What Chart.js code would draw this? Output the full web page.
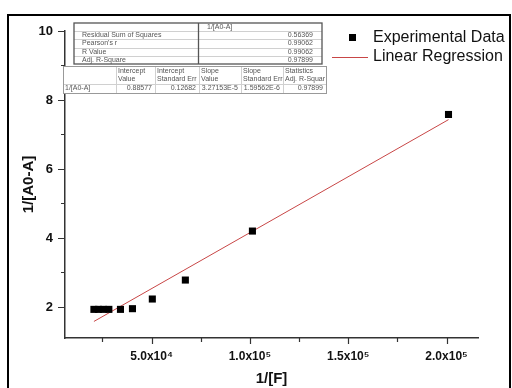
<!DOCTYPE html>
<html>
<head>
    <script src="https://cdn.jsdelivr.net/npm/chart.js@4.4.0/dist/chart.umd.min.js"></script>
    <style>
        body { margin: 0; background: #fff; }
    </style>
</head>
<body>
    <canvas id="myChart" width="512" height="388"></canvas>

    <script type="text/javascript">
        // data
        const fluorInv = [20700, 23000, 25500, 28300, 34200, 40300, 50400, 67200, 101300, 201000];
        const absInv = [1.93, 1.93, 1.93, 1.93, 1.93, 1.95, 2.23, 2.78, 4.20, 7.58];
        const fitX = [20700, 201000];
        const fitY = [1.58, 7.43];

        const xMajor = [50000, 100000, 150000, 200000];
        const xMajorLabels = ['5.0x10\u2074', '1.0x10\u2075', '1.5x10\u2075', '2.0x10\u2075'];
        const xMinor = [25000, 75000, 125000, 175000];
        const yMajor = [2, 4, 6, 8, 10];
        const yMinor = [3, 5, 7, 9];

        // fit report tables
        const t1Header = '1/[A0-A]';
        const t1Rows = ['Residual Sum of Squares', "Pearson's r", 'R Value', 'Adj. R-Square'];
        const t1Vals = ['0.56369', '0.99062', '0.99062', '0.97899'];
        const t2Head1 = ['Intercept', 'Intercept', 'Slope', 'Slope', 'Statistics'];
        const t2Head2 = ['Value', 'Standard Err', 'Value', 'Standard Err', 'Adj. R-Squar'];
        const t2RowName = '1/[A0-A]';
        const t2Row = ['0.88577', '0.12682', '3.27153E-5', '1.59562E-6', '0.97899'];

        const FONT = '"Liberation Sans", Arial, sans-serif';

        const points = fluorInv.map((x, i) => ({ x: x, y: absInv[i] }));
        const fitLine = fitX.map((x, i) => ({ x: x, y: fitY[i] }));

        const extras = {
            id: 'extras',
            afterDraw(chart) {
                const ctx = chart.ctx;
                const xs = chart.scales.x;
                const ys = chart.scales.y;
                ctx.save();

                // outer frame
                ctx.strokeStyle = '#000';
                ctx.lineWidth = 2;
                ctx.strokeRect(8, 15, 502, 400);

                // tick marks (outward)
                ctx.strokeStyle = '#333';
                ctx.lineWidth = 1.2;
                ctx.beginPath();
                yMajor.concat(yMinor).forEach(v => {
                    const py = Math.round(ys.getPixelForValue(v)) + 0.5;
                    const len = yMajor.includes(v) ? 7 : 4;
                    ctx.moveTo(xs.left, py);
                    ctx.lineTo(xs.left - len, py);
                });
                xMajor.concat(xMinor).forEach(v => {
                    const px = Math.round(xs.getPixelForValue(v)) + 0.5;
                    const len = xMajor.includes(v) ? 6 : 4;
                    ctx.moveTo(px, ys.bottom);
                    ctx.lineTo(px, ys.bottom + len);
                });
                ctx.stroke();

                // table 1
                ctx.font = '7px ' + FONT;
                ctx.textBaseline = 'middle';
                const t1 = { l: 74, r: 322, t: 23, b: 64, mid: 198 };
                const rh = (t1.b - t1.t) / 5;
                ctx.fillStyle = '#fff';
                ctx.fillRect(t1.l, t1.t, t1.r - t1.l, t1.b - t1.t);
                ctx.strokeStyle = '#d0d0d0';
                ctx.lineWidth = 1;
                ctx.beginPath();
                for (let i = 1; i < 5; i++) {
                    const yy = Math.round(t1.t + rh * i) + 0.5;
                    ctx.moveTo(t1.l, yy);
                    ctx.lineTo(t1.r, yy);
                }
                ctx.stroke();
                ctx.strokeStyle = '#555';
                ctx.lineWidth = 1.3;
                ctx.strokeRect(t1.l, t1.t, t1.r - t1.l, t1.b - t1.t);
                ctx.beginPath();
                ctx.moveTo(t1.mid + 0.5, t1.t);
                ctx.lineTo(t1.mid + 0.5, t1.b);
                ctx.stroke();
                ctx.fillStyle = '#555';
                ctx.textAlign = 'left';
                ctx.fillText(t1Header, 207, t1.t + rh * 0.5);
                t1Rows.forEach((s, i) => {
                    ctx.textAlign = 'left';
                    ctx.fillText(s, 82, t1.t + rh * (i + 1.5));
                    ctx.textAlign = 'right';
                    ctx.fillText(t1Vals[i], 313, t1.t + rh * (i + 1.5));
                });

                // table 2
                const cols = [63, 116, 155, 199, 241, 283, 326];
                const t2 = { t: 66, b: 93, line: 84 };
                ctx.fillStyle = '#fff';
                ctx.fillRect(cols[0], t2.t, cols[6] - cols[0], t2.b - t2.t);
                ctx.strokeStyle = '#d0d0d0';
                ctx.lineWidth = 1;
                ctx.beginPath();
                for (let i = 1; i < cols.length - 1; i++) {
                    ctx.moveTo(cols[i] + 0.5, t2.t);
                    ctx.lineTo(cols[i] + 0.5, t2.b);
                }
                ctx.moveTo(cols[0], t2.line + 0.5);
                ctx.lineTo(cols[6], t2.line + 0.5);
                ctx.stroke();
                ctx.strokeStyle = '#999';
                ctx.strokeRect(cols[0] + 0.5, t2.t + 0.5, cols[6] - cols[0], t2.b - t2.t);
                ctx.fillStyle = '#555';
                ctx.textAlign = 'left';
                ctx.fillText(t2RowName, 65, 88.5);
                t2Head1.forEach((s, i) => {
                    ctx.textAlign = 'left';
                    ctx.fillText(s, cols[i + 1] + 2, 71);
                    ctx.fillText(t2Head2[i], cols[i + 1] + 2, 79);
                    ctx.textAlign = 'right';
                    ctx.fillText(t2Row[i], cols[i + 2] - 3, 88.5);
                });

                // legend
                const ds0 = chart.data.datasets[0];
                const ds1 = chart.data.datasets[1];
                ctx.fillStyle = ds0.backgroundColor;
                ctx.fillRect(349, 34, 7, 7);
                ctx.strokeStyle = ds1.borderColor;
                ctx.lineWidth = 1;
                ctx.beginPath();
                ctx.moveTo(332, 57.5);
                ctx.lineTo(368, 57.5);
                ctx.stroke();
                ctx.fillStyle = '#111';
                ctx.font = '16px ' + FONT;
                ctx.textAlign = 'left';
                ctx.fillText(ds0.label, 373, 37.5);
                ctx.fillText(ds1.label, 373, 57);

                ctx.restore();
            }
        };

        const config = {
            type: 'scatter',
            data: {
                datasets: [{
                    label: 'Experimental Data',
                    data: points,
                    pointStyle: 'rect',
                    pointRadius: 5,
                    backgroundColor: '#000',
                    borderColor: '#000',
                    borderWidth: 0,
                    order: 1
                }, {
                    label: 'Linear Regression',
                    data: fitLine,
                    showLine: true,
                    pointRadius: 0,
                    borderColor: 'rgb(200, 70, 70)',
                    borderWidth: 1,
                    order: 2
                }]
            },
            options: {
                responsive: false,
                animation: false,
                layout: { padding: { top: 31, right: 34, left: 12, bottom: 0 } },
                plugins: {
                    legend: { display: false },
                    tooltip: { enabled: false }
                },
                scales: {
                    x: {
                        type: 'linear',
                        min: 6000,
                        max: 216000,
                        afterFit: s => { s.height = 50; },
                        afterBuildTicks: s => {
                            s.ticks = xMajor.concat(xMinor).sort((a, b) => a - b).map(v => ({ value: v }));
                        },
                        grid: { display: false, drawTicks: false },
                        border: { display: true, color: '#333', width: 1.5 },
                        ticks: {
                            autoSkip: false,
                            maxRotation: 0,
                            padding: 11,
                            color: '#111',
                            font: { family: FONT, size: 12, weight: 'bold' },
                            callback: v => {
                                const i = xMajor.indexOf(v);
                                return i >= 0 ? xMajorLabels[i] : '';
                            }
                        },
                        title: {
                            display: true,
                            text: '1/[F]',
                            color: '#111',
                            padding: { top: 0, bottom: 0 },
                            font: { family: FONT, size: 15, weight: 'bold' }
                        }
                    },
                    y: {
                        min: 1.1,
                        max: 10,
                        afterFit: s => { s.width = 53; },
                        afterBuildTicks: s => {
                            s.ticks = yMajor.concat(yMinor).sort((a, b) => a - b).map(v => ({ value: v }));
                        },
                        grid: { display: false, drawTicks: false },
                        border: { display: true, color: '#333', width: 1.5 },
                        ticks: {
                            autoSkip: false,
                            padding: 12,
                            color: '#111',
                            font: { family: FONT, size: 13, weight: 'bold' },
                            callback: v => yMajor.includes(v) ? String(v) : ''
                        },
                        title: {
                            display: true,
                            text: '1/[A0-A]',
                            color: '#111',
                            padding: { top: 8, bottom: 0 },
                            font: { family: FONT, size: 15, weight: 'bold' }
                        }
                    }
                }
            },
            plugins: [extras]
        };

        const chart = new Chart(document.getElementById('myChart'), config);
    </script>
</body>
</html>
